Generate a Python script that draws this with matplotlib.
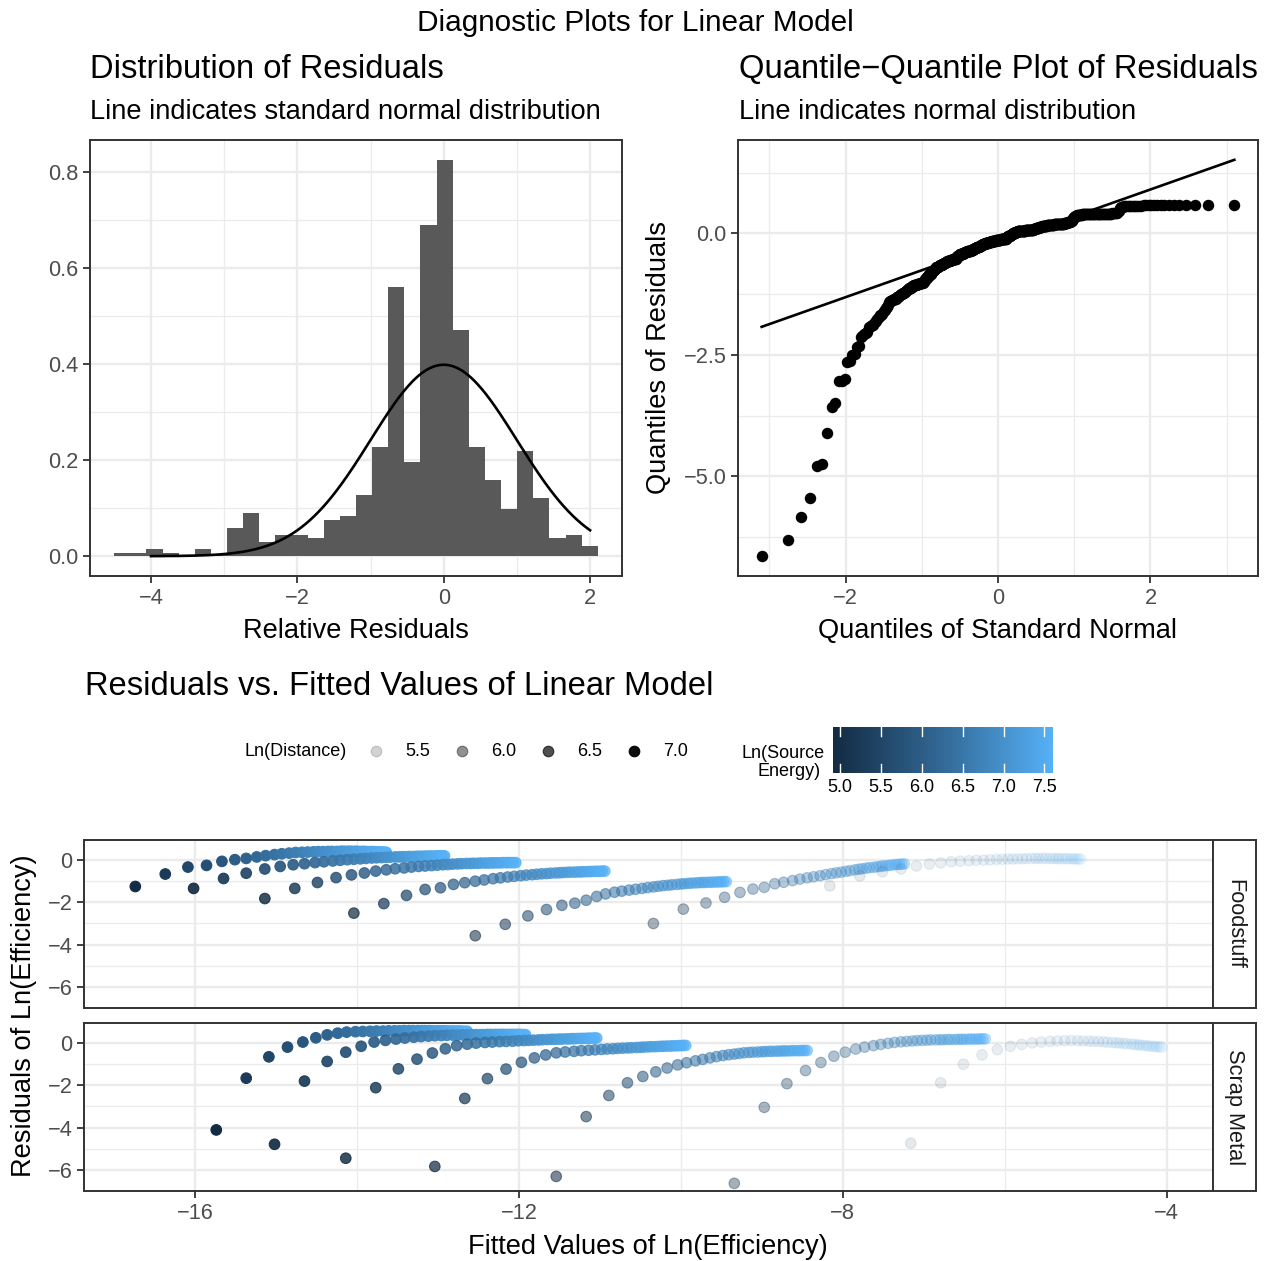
import numpy as np
import matplotlib
matplotlib.use("Agg")
import matplotlib.pyplot as plt
from matplotlib.colors import LinearSegmentedColormap, Normalize
from statistics import NormalDist

plt.rcParams["font.family"] = ["Liberation Sans", "DejaVu Sans"]

# relative residuals, density per bin (30 bins)
rel_resid_lims = (-4.503, 2.106)
rel_resid_density = [0.0069, 0.0069, 0.0153, 0.0069, 0.0, 0.0153, 0.0035, 0.059,
                     0.090, 0.030, 0.044, 0.044, 0.037, 0.076, 0.083, 0.128,
                     0.228, 0.562, 0.197, 0.691, 0.826, 0.472, 0.228, 0.159,
                     0.099, 0.220, 0.122, 0.037, 0.044, 0.022]

# ln(source energy) levels, shared by every distance series
ln_energy = [4.913, 5.236, 5.481, 5.677, 5.841, 5.981, 6.105, 6.215, 6.313, 6.404,
             6.486, 6.562, 6.633, 6.699, 6.761, 6.820, 6.875, 6.928, 6.977, 7.025,
             7.070, 7.113, 7.155, 7.194, 7.233, 7.270, 7.305, 7.339, 7.373, 7.405,
             7.436, 7.466, 7.496, 7.524, 7.551, 7.578, 7.605]

# ln(distance) of each series
ln_distance = [7.10, 6.95, 6.77, 6.55, 6.24, 5.88, 5.35]

fitted_foodstuff = [
    [-16.74, -16.37, -16.09, -15.86, -15.67, -15.51, -15.37, -15.24, -15.13, -15.02, -14.93, -14.84, -14.76,
     -14.68, -14.61, -14.54, -14.48, -14.42, -14.36, -14.31, -14.25, -14.20, -14.16, -14.11, -14.07, -14.02,
     -13.98, -13.94, -13.91, -13.87, -13.83, -13.80, -13.76, -13.73, -13.70, -13.67, -13.64],
    [-16.02, -15.65, -15.37, -15.14, -14.95, -14.79, -14.65, -14.52, -14.41, -14.30, -14.21, -14.12, -14.04,
     -13.96, -13.89, -13.82, -13.76, -13.70, -13.64, -13.59, -13.53, -13.48, -13.44, -13.39, -13.35, -13.30,
     -13.26, -13.22, -13.19, -13.15, -13.11, -13.08, -13.04, -13.01, -12.98, -12.95, -12.92],
    [-15.14, -14.77, -14.49, -14.26, -14.07, -13.91, -13.77, -13.64, -13.53, -13.42, -13.33, -13.24, -13.16,
     -13.08, -13.01, -12.94, -12.88, -12.82, -12.76, -12.71, -12.65, -12.60, -12.56, -12.51, -12.47, -12.42,
     -12.38, -12.34, -12.31, -12.27, -12.23, -12.20, -12.16, -12.13, -12.10, -12.07, -12.04],
    [-14.04, -13.67, -13.39, -13.16, -12.97, -12.81, -12.67, -12.54, -12.43, -12.32, -12.23, -12.14, -12.06,
     -11.98, -11.91, -11.84, -11.78, -11.72, -11.66, -11.61, -11.55, -11.50, -11.46, -11.41, -11.37, -11.32,
     -11.28, -11.24, -11.21, -11.17, -11.13, -11.10, -11.06, -11.03, -11.00, -10.97, -10.94],
    [-12.54, -12.17, -11.89, -11.66, -11.47, -11.31, -11.17, -11.04, -10.93, -10.82, -10.73, -10.64, -10.56,
     -10.48, -10.41, -10.34, -10.28, -10.22, -10.16, -10.11, -10.05, -10.00, -9.96, -9.91, -9.87, -9.82,
     -9.78, -9.74, -9.71, -9.67, -9.63, -9.60, -9.56, -9.53, -9.50, -9.47, -9.44],
    [-10.34, -9.97, -9.69, -9.46, -9.27, -9.11, -8.97, -8.84, -8.73, -8.62, -8.53, -8.44, -8.36,
     -8.28, -8.21, -8.14, -8.08, -8.02, -7.96, -7.91, -7.85, -7.80, -7.76, -7.71, -7.67, -7.62,
     -7.58, -7.54, -7.51, -7.47, -7.43, -7.40, -7.36, -7.33, -7.30, -7.27, -7.24],
    [-8.16, -7.79, -7.51, -7.28, -7.09, -6.93, -6.79, -6.66, -6.55, -6.44, -6.35, -6.26, -6.18,
     -6.10, -6.03, -5.96, -5.90, -5.84, -5.78, -5.73, -5.67, -5.62, -5.58, -5.53, -5.49, -5.44,
     -5.40, -5.36, -5.33, -5.29, -5.25, -5.22, -5.18, -5.15, -5.12, -5.09, -5.06],
]
resid_foodstuff = [
    [-1.25, -0.66, -0.33, -0.25, -0.06, 0.02, 0.08, 0.15, 0.21, 0.26, 0.30, 0.33, 0.36,
     0.37, 0.38, 0.39, 0.40, 0.40, 0.41, 0.41, 0.41, 0.42, 0.42, 0.42, 0.42, 0.42,
     0.41, 0.41, 0.41, 0.40, 0.40, 0.40, 0.39, 0.39, 0.38, 0.38, 0.37],
    [-1.34, -0.87, -0.62, -0.42, -0.30, -0.22, -0.17, -0.12, -0.08, -0.04, -0.01, 0.02, 0.04,
     0.06, 0.08, 0.10, 0.11, 0.12, 0.13, 0.14, 0.15, 0.15, 0.16, 0.16, 0.17, 0.17,
     0.18, 0.18, 0.18, 0.19, 0.19, 0.19, 0.19, 0.20, 0.20, 0.20, 0.20],
    [-1.82, -1.34, -1.06, -0.83, -0.70, -0.61, -0.52, -0.46, -0.41, -0.37, -0.33, -0.30, -0.28,
     -0.26, -0.24, -0.22, -0.21, -0.19, -0.18, -0.17, -0.16, -0.16, -0.15, -0.15, -0.14, -0.14,
     -0.14, -0.13, -0.13, -0.13, -0.13, -0.12, -0.12, -0.12, -0.12, -0.12, -0.12],
    [-2.51, -2.06, -1.67, -1.39, -1.31, -1.15, -1.07, -1.00, -0.94, -0.88, -0.84, -0.80, -0.77,
     -0.74, -0.71, -0.69, -0.67, -0.65, -0.64, -0.62, -0.61, -0.60, -0.59, -0.58, -0.57, -0.57,
     -0.56, -0.56, -0.55, -0.55, -0.54, -0.54, -0.53, -0.53, -0.53, -0.52, -0.52],
    [-3.58, -3.04, -2.64, -2.34, -2.14, -2.04, -1.90, -1.72, -1.60, -1.52, -1.47, -1.42, -1.38,
     -1.34, -1.30, -1.27, -1.24, -1.21, -1.19, -1.17, -1.15, -1.13, -1.12, -1.10, -1.09, -1.08,
     -1.07, -1.06, -1.06, -1.05, -1.05, -1.04, -1.04, -1.03, -1.03, -1.02, -1.02],
    [-3.00, -2.32, -2.03, -1.76, -1.53, -1.37, -1.29, -1.12, -1.05, -0.97, -0.90, -0.84, -0.79,
     -0.74, -0.69, -0.64, -0.60, -0.57, -0.53, -0.50, -0.46, -0.43, -0.41, -0.38, -0.36, -0.34,
     -0.32, -0.30, -0.28, -0.27, -0.25, -0.24, -0.22, -0.21, -0.20, -0.19, -0.18],
    [-1.22, -0.75, -0.55, -0.42, -0.28, -0.19, -0.13, -0.08, -0.05, -0.03, -0.01, 0.00, 0.01,
     0.03, 0.04, 0.05, 0.05, 0.06, 0.06, 0.07, 0.08, 0.08, 0.08, 0.08, 0.08, 0.08,
     0.07, 0.07, 0.07, 0.07, 0.07, 0.06, 0.06, 0.06, 0.05, 0.05, 0.05],
]
fitted_scrap = [
    [-15.74, -15.37, -15.09, -14.86, -14.67, -14.51, -14.37, -14.24, -14.13, -14.02, -13.93, -13.84, -13.76,
     -13.68, -13.61, -13.54, -13.48, -13.42, -13.36, -13.31, -13.25, -13.20, -13.16, -13.11, -13.07, -13.02,
     -12.98, -12.94, -12.91, -12.87, -12.83, -12.80, -12.76, -12.73, -12.70, -12.67, -12.64],
    [-15.02, -14.65, -14.37, -14.14, -13.95, -13.79, -13.65, -13.52, -13.41, -13.30, -13.21, -13.12, -13.04,
     -12.96, -12.89, -12.82, -12.76, -12.70, -12.64, -12.59, -12.53, -12.48, -12.44, -12.39, -12.35, -12.30,
     -12.26, -12.22, -12.19, -12.15, -12.11, -12.08, -12.04, -12.01, -11.98, -11.95, -11.92],
    [-14.14, -13.77, -13.49, -13.26, -13.07, -12.91, -12.77, -12.64, -12.53, -12.42, -12.33, -12.24, -12.16,
     -12.08, -12.01, -11.94, -11.88, -11.82, -11.76, -11.71, -11.65, -11.60, -11.56, -11.51, -11.47, -11.42,
     -11.38, -11.34, -11.31, -11.27, -11.23, -11.20, -11.16, -11.13, -11.10, -11.07, -11.04],
    [-13.04, -12.67, -12.39, -12.16, -11.97, -11.81, -11.67, -11.54, -11.43, -11.32, -11.23, -11.14, -11.06,
     -10.98, -10.91, -10.84, -10.78, -10.72, -10.66, -10.61, -10.55, -10.50, -10.46, -10.41, -10.37, -10.32,
     -10.28, -10.24, -10.21, -10.17, -10.13, -10.10, -10.06, -10.03, -10.00, -9.97, -9.94],
    [-11.54, -11.17, -10.89, -10.66, -10.47, -10.31, -10.17, -10.04, -9.93, -9.82, -9.73, -9.64, -9.56,
     -9.48, -9.41, -9.34, -9.28, -9.22, -9.16, -9.11, -9.05, -9.00, -8.96, -8.91, -8.87, -8.82,
     -8.78, -8.74, -8.71, -8.67, -8.63, -8.60, -8.56, -8.53, -8.50, -8.47, -8.44],
    [-9.34, -8.97, -8.69, -8.46, -8.27, -8.11, -7.97, -7.84, -7.73, -7.62, -7.53, -7.44, -7.36,
     -7.28, -7.21, -7.14, -7.08, -7.02, -6.96, -6.91, -6.85, -6.80, -6.76, -6.71, -6.67, -6.62,
     -6.58, -6.54, -6.51, -6.47, -6.43, -6.40, -6.36, -6.33, -6.30, -6.27, -6.24],
    [-7.16, -6.79, -6.51, -6.28, -6.09, -5.93, -5.79, -5.66, -5.55, -5.44, -5.35, -5.26, -5.18,
     -5.10, -5.03, -4.96, -4.90, -4.84, -4.78, -4.73, -4.67, -4.62, -4.58, -4.53, -4.49, -4.44,
     -4.40, -4.36, -4.33, -4.29, -4.25, -4.22, -4.18, -4.15, -4.12, -4.09, -4.06],
]
resid_scrap = [
    [-4.11, -1.66, -0.65, -0.19, 0.05, 0.25, 0.39, 0.47, 0.52, 0.54, 0.55, 0.56, 0.57,
     0.57, 0.58, 0.58, 0.58, 0.59, 0.59, 0.59, 0.59, 0.59, 0.59, 0.59, 0.58, 0.58,
     0.58, 0.58, 0.58, 0.57, 0.57, 0.57, 0.57, 0.57, 0.56, 0.56, 0.56],
    [-4.79, -1.80, -0.87, -0.43, -0.15, 0.05, 0.13, 0.19, 0.24, 0.28, 0.31, 0.33, 0.35,
     0.36, 0.37, 0.38, 0.38, 0.39, 0.39, 0.40, 0.40, 0.40, 0.40, 0.41, 0.41, 0.41,
     0.41, 0.41, 0.41, 0.41, 0.41, 0.41, 0.41, 0.41, 0.41, 0.40, 0.40],
    [-5.45, -2.11, -1.22, -0.76, -0.47, -0.27, -0.12, -0.05, 0.00, 0.03, 0.05, 0.07, 0.08,
     0.09, 0.11, 0.12, 0.13, 0.14, 0.15, 0.16, 0.17, 0.18, 0.18, 0.19, 0.19, 0.20,
     0.20, 0.21, 0.21, 0.22, 0.22, 0.22, 0.23, 0.23, 0.23, 0.24, 0.24],
    [-5.84, -2.62, -1.68, -1.23, -0.91, -0.70, -0.56, -0.46, -0.42, -0.39, -0.36, -0.34, -0.32,
     -0.30, -0.28, -0.27, -0.25, -0.24, -0.23, -0.22, -0.21, -0.20, -0.19, -0.18, -0.17, -0.17,
     -0.16, -0.15, -0.15, -0.14, -0.14, -0.13, -0.13, -0.12, -0.12, -0.11, -0.11],
    [-6.31, -3.48, -2.48, -1.88, -1.58, -1.36, -1.18, -1.03, -0.93, -0.84, -0.77, -0.70, -0.64,
     -0.59, -0.55, -0.52, -0.49, -0.46, -0.44, -0.43, -0.42, -0.41, -0.40, -0.39, -0.39, -0.38,
     -0.38, -0.37, -0.37, -0.37, -0.36, -0.36, -0.36, -0.36, -0.35, -0.35, -0.35],
    [-6.64, -3.04, -1.92, -1.30, -0.92, -0.62, -0.43, -0.28, -0.19, -0.12, -0.06, -0.01, 0.03,
     0.06, 0.08, 0.10, 0.12, 0.13, 0.14, 0.15, 0.15, 0.16, 0.16, 0.17, 0.17, 0.17,
     0.18, 0.18, 0.18, 0.18, 0.19, 0.19, 0.19, 0.19, 0.20, 0.20, 0.20],
    [-4.74, -1.88, -1.00, -0.56, -0.31, -0.15, -0.06, 0.01, 0.05, 0.08, 0.10, 0.11, 0.12,
     0.11, 0.10, 0.09, 0.08, 0.07, 0.06, 0.04, 0.03, 0.01, 0.00, -0.02, -0.03, -0.05,
     -0.06, -0.08, -0.09, -0.11, -0.12, -0.14, -0.15, -0.16, -0.17, -0.18, -0.19],
]
facets = [("Foodstuff", fitted_foodstuff, resid_foodstuff),
          ("Scrap Metal", fitted_scrap, resid_scrap)]

distance_breaks = [5.5, 6.0, 6.5, 7.0]
energy_breaks = [5.0, 5.5, 6.0, 6.5, 7.0, 7.5]

# ---------------------------------------------------------------------------
W, H = 1270, 1261
GRID = "#EBEBEB"
BORDER = "#333333"
TICK_TXT = "#4D4D4D"
TICK_FS = 15.7
PT_SIZE = 58

fig = plt.figure(figsize=(W / 100, H / 100), dpi=100)


def box(l, t, r, b):
    return [l / W, 1 - b / H, (r - l) / W, (b - t) / H]


def ftext(x, y, s, **kw):
    return fig.text(x / W, 1 - y / H, s, **kw)


def expand(lo, hi, f=0.05):
    r = hi - lo
    return lo - f * r, hi + f * r


def bw(ax, xmaj, xmin, ymaj, ymin):
    ax.set_xticks(xmaj)
    ax.set_xticks(xmin, minor=True)
    ax.set_yticks(ymaj)
    ax.set_yticks(ymin, minor=True)
    ax.grid(True, which="major", color=GRID, lw=1.7)
    ax.grid(True, which="minor", color=GRID, lw=0.9)
    ax.set_axisbelow(True)
    for sp in ax.spines.values():
        sp.set_color(BORDER)
        sp.set_linewidth(1.4)
    ax.tick_params(which="major", length=4.9, width=1.3, color=BORDER,
                   labelsize=TICK_FS, labelcolor=TICK_TXT, pad=3.5)
    ax.tick_params(which="minor", length=0)


ftext(635, 31, "Diagnostic Plots for Linear Model", fontsize=21.4, ha="center", va="baseline")

# --- histogram of relative residuals ---
ax1 = fig.add_axes(box(90, 140, 622, 576))
edges = np.linspace(rel_resid_lims[0], rel_resid_lims[1], len(rel_resid_density) + 1)
ax1.bar(edges[:-1], rel_resid_density, width=np.diff(edges), align="edge",
        color="#595959", lw=0, zorder=2)
xs = np.linspace(-4, 2, 300)
ax1.plot(xs, np.exp(-xs ** 2 / 2) / np.sqrt(2 * np.pi), color="black", lw=1.9, zorder=3)
ax1.set_xlim(*expand(*rel_resid_lims))
ax1.set_ylim(*expand(0, max(rel_resid_density)))
bw(ax1, [-4, -2, 0, 2], [-3, -1, 1], [0, 0.2, 0.4, 0.6, 0.8], [0.1, 0.3, 0.5, 0.7])
ax1.set_yticklabels(["0.0", "0.2", "0.4", "0.6", "0.8"])
ftext(90, 78, "Distribution of Residuals", fontsize=23.6, va="baseline")
ftext(90, 119, "Line indicates standard normal distribution", fontsize=19.6, va="baseline")
ftext(356, 638, "Relative Residuals", fontsize=19.6, ha="center", va="baseline")

# --- normal Q-Q plot of the residuals ---
all_resid = np.sort(np.concatenate([np.ravel(r) for _, _, r in facets]))
n = len(all_resid)
nd = NormalDist()
theo = np.array([nd.inv_cdf((i + 0.5) / n) for i in range(n)])
q1, q3 = np.quantile(all_resid, [0.25, 0.75])
z1, z3 = nd.inv_cdf(0.25), nd.inv_cdf(0.75)
slope = (q3 - q1) / (z3 - z1)
icpt = q1 - slope * z1
line_x = np.array([theo[0], theo[-1]])
line_y = icpt + slope * line_x

ax2 = fig.add_axes(box(738, 140, 1258, 576))
ax2.scatter(theo, all_resid, s=68, color="black", lw=0, zorder=3)
ax2.plot(line_x, line_y, color="black", lw=1.9, zorder=4)
ax2.set_xlim(*expand(theo[0], theo[-1]))
ax2.set_ylim(*expand(min(all_resid[0], line_y.min()), max(all_resid[-1], line_y.max())))
bw(ax2, [-2, 0, 2], [-3, -1, 1, 3], [0, -2.5, -5], [1.25, -1.25, -3.75, -6.25])
ax2.set_yticklabels(["0.0", "\u22122.5", "\u22125.0"])
ftext(739, 78, "Quantile\u2212Quantile Plot of Residuals", fontsize=23.6, va="baseline")
ftext(739, 119, "Line indicates normal distribution", fontsize=19.6, va="baseline")
ftext(998, 638, "Quantiles of Standard Normal", fontsize=19.6, ha="center", va="baseline")
ftext(659, 358, "Quantiles of Residuals", fontsize=19.6, rotation=90, ha="center", va="center")

# --- residuals vs fitted, one panel per material ---
energy_cmap = LinearSegmentedColormap.from_list("energy", ["#132B43", "#336A98", "#56B1F7"])
energy_norm = Normalize(min(ln_energy), max(ln_energy))
dist_norm = Normalize(min(ln_distance), max(ln_distance))


def dist_alpha(v):
    return 0.1 + 0.9 * float(dist_norm(v))


all_fit = np.concatenate([np.ravel(f) for _, f, _ in facets])
xlim = expand(all_fit.min(), all_fit.max())
ylim = expand(all_resid[0], all_resid[-1])
energy_rgba = energy_cmap(energy_norm(np.array(ln_energy)))

panel_rows = [(840, 1008), (1023, 1191)]
for (name, fitted, resid), (top, bot) in zip(facets, panel_rows):
    ax = fig.add_axes(box(84, top, 1213, bot))
    for fx, ry, d in zip(fitted, resid, ln_distance):
        cols = energy_rgba.copy()
        cols[:, 3] = dist_alpha(d)
        ax.scatter(fx, ry, s=PT_SIZE, c=cols, edgecolors=cols, linewidths=0.8, zorder=3)
    ax.set_xlim(*xlim)
    ax.set_ylim(*ylim)
    bw(ax, [-16, -12, -8, -4], [-14, -10, -6], [0, -2, -4, -6], [-1, -3, -5])
    if name == "Foodstuff":
        ax.tick_params(axis="x", which="major", length=0, labelbottom=False)

    sax = fig.add_axes(box(1213, top, 1256, bot))
    sax.set_xticks([])
    sax.set_yticks([])
    for sp in sax.spines.values():
        sp.set_color(BORDER)
        sp.set_linewidth(1.4)
    sax.text(0.5, 0.5, name, rotation=-90, ha="center", va="center",
             fontsize=15.7, color="#1A1A1A", transform=sax.transAxes)

ftext(85, 695, "Residuals vs. Fitted Values of Linear Model", fontsize=23.6, va="baseline")
ftext(648, 1254, "Fitted Values of Ln(Efficiency)", fontsize=19.6, ha="center", va="baseline")
ftext(24, 1016, "Residuals of Ln(Efficiency)", fontsize=19.6, rotation=90, ha="center", va="center")

# --- legends ---
LEG_FS = 13
ftext(245, 751, "Ln(Distance)", fontsize=LEG_FS, va="center")
lax = fig.add_axes([0, 0, 1, 1])
lax.set_xlim(0, W)
lax.set_ylim(H, 0)
lax.axis("off")
for i, v in enumerate(distance_breaks):
    kx = 376 + 86 * i
    rgba = (0, 0, 0, dist_alpha(v))
    lax.scatter([kx], [751], s=PT_SIZE, color=[rgba], edgecolors=[rgba], linewidths=0.8)
    ftext(kx + 29, 751, f"{v:.1f}", fontsize=LEG_FS, va="center")

ftext(825, 754, "Ln(Source", fontsize=LEG_FS, ha="right", va="center")
ftext(821, 772, "Energy)", fontsize=LEG_FS, ha="right", va="center")
cax = fig.add_axes(box(833, 727, 1053, 773))
grad = np.linspace(min(ln_energy), max(ln_energy), 300)[None, :]
cax.imshow(grad, aspect="auto", cmap=energy_cmap, norm=energy_norm,
           extent=[min(ln_energy), max(ln_energy), 0, 1])
for t in energy_breaks:
    cax.plot([t, t], [0, 0.2], color="white", lw=1)
    cax.plot([t, t], [0.8, 1], color="white", lw=1)
cax.set_xlim(min(ln_energy), max(ln_energy))
cax.set_ylim(0, 1)
cax.set_yticks([])
cax.set_xticks(energy_breaks)
cax.set_xticklabels([f"{t:.1f}" for t in energy_breaks])
cax.tick_params(axis="x", length=0, labelsize=LEG_FS, pad=4)
for sp in cax.spines.values():
    sp.set_visible(False)

fig.savefig("out.png", dpi=100, facecolor="white")
